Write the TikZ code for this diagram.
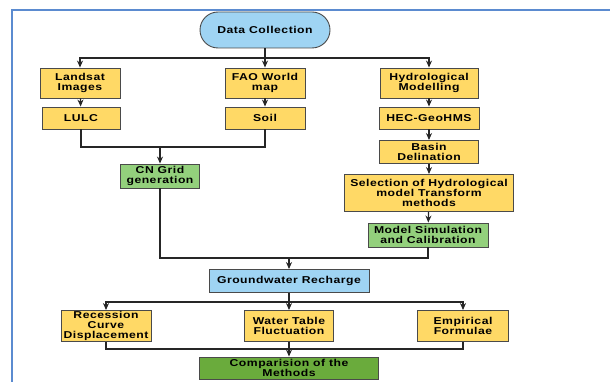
\documentclass[tikz,border=0pt]{standalone}
\usepackage{fontspec}
\setmainfont{Liberation Sans}
\newfontfamily\flowfont[FakeStretch=1.22,LetterSpace=5]{Liberation Sans Bold}
\usepackage{tikz}
\usetikzlibrary{positioning,arrows.meta}
\usepackage{xcolor}
\definecolor{boxyellow}{HTML}{FFD966}
\definecolor{boxgreen}{HTML}{93D07C}
\definecolor{boxdkgreen}{HTML}{6AAB3C}
\definecolor{boxblue}{HTML}{9FD4F3}
\definecolor{framblue}{HTML}{5B8BD0}
\definecolor{edgegray}{HTML}{4A4A4A}

\begin{document}
\begin{tikzpicture}[x=1pt, y=-1pt,
      box/.style={draw=edgegray, line width=0.9pt, align=center, inner sep=0pt,
                  font=\flowfont\fontsize{10}{9.7}\selectfont},
      ybox/.style={box, fill=boxyellow},
      gbox/.style={box, fill=boxgreen},
      dgbox/.style={box, fill=boxdkgreen},
      bbox/.style={box, fill=boxblue},
      link/.style={draw=black!85, line width=1.1pt},
      >={Stealth[length=7pt, width=6pt]}]
    \useasboundingbox (0,0) rectangle (610,382);
    \draw[framblue, line width=2pt] (12,385) -- (12,10) -- (613,10);
    % top row
    \node[bbox, rounded corners=18pt, minimum width=130pt, minimum height=36pt] (dc) at (265,30) {Data Collection};
    \node[ybox, minimum width=80pt, minimum height=30pt] (landsat) at (80,83) {Landsat\\Images};
    \node[ybox, minimum width=80pt, minimum height=30pt] (fao) at (265,83) {FAO World\\map};
    \node[ybox, minimum width=98pt, minimum height=30pt] (hydro) at (429,83) {Hydrological\\Modelling};
    \node[ybox, minimum width=78pt, minimum height=22pt] (lulc) at (81,118) {LULC};
    \node[ybox, minimum width=80pt, minimum height=22pt] (soil) at (265,118) {Soil};
    \node[ybox, minimum width=100pt, minimum height=22pt] (hec) at (429,118) {HEC-GeoHMS};
    % middle
    \node[gbox, minimum width=79pt, minimum height=24pt] (cn) at (160,176) {CN Grid\\generation};
    \node[ybox, minimum width=99pt, minimum height=23pt] (basin) at (429,152) {Basin\\Delination};
    \node[ybox, minimum width=169pt, minimum height=37pt] (sel) at (429,193) {Selection of Hydrological\\model Transform\\methods};
    \node[gbox, minimum width=120pt, minimum height=24pt] (msc) at (428,235) {Model Simulation\\and Calibration};
    \node[bbox, minimum width=160pt, minimum height=23pt] (gwr) at (289,281) {Groundwater Recharge};
    % bottom
    \node[ybox, minimum width=90pt, minimum height=31pt] (rcd) at (106,326) {Recession\\Curve\\Displacement};
    \node[ybox, minimum width=89pt, minimum height=31pt] (wtf) at (289,326) {Water Table\\Fluctuation};
    \node[ybox, minimum width=91pt, minimum height=31pt] (emp) at (463,326) {Empirical\\Formulae};
    \node[dgbox, minimum width=179pt, minimum height=22pt] (cmp) at (289,368) {Comparision of the\\Methods};
    % connectors
    \coordinate (br1) at (265,58);
    \coordinate (m1) at (160,147);
    \coordinate (m2) at (289,258);
    \coordinate (br2) at (289,302);
    \coordinate (m3) at (289,349);
    \draw[link, ->] (dc) -- (fao);
    \draw[link, ->] (br1) -| (landsat);
    \draw[link, ->] (br1) -| (hydro);
    \draw[link, ->] (landsat) -- (lulc);
    \draw[link, ->] (fao) -- (soil);
    \draw[link, ->] (hydro) -- (hec);
    \draw[link] (lulc.south) |- (soil.south |- m1) -- (soil.south);
    \draw[link, ->] (m1) -- (cn);
    \draw[link, ->] (hec) -- (basin);
    \draw[link, ->] (basin) -- (sel);
    \draw[link, ->] (sel) -- (msc);
    \draw[link] (cn.south) |- (msc.south |- m2) -- (msc.south);
    \draw[link, ->] (m2) -- (gwr);
    \draw[link, ->] (gwr) -- (wtf);
    \draw[link, ->] (br2) -| (rcd);
    \draw[link, ->] (br2) -| (emp);
    \draw[link] (rcd.south) |- (emp.south |- m3) -- (emp.south);
    \draw[link, ->] (wtf) -- (cmp);
\end{tikzpicture}
\end{document}
